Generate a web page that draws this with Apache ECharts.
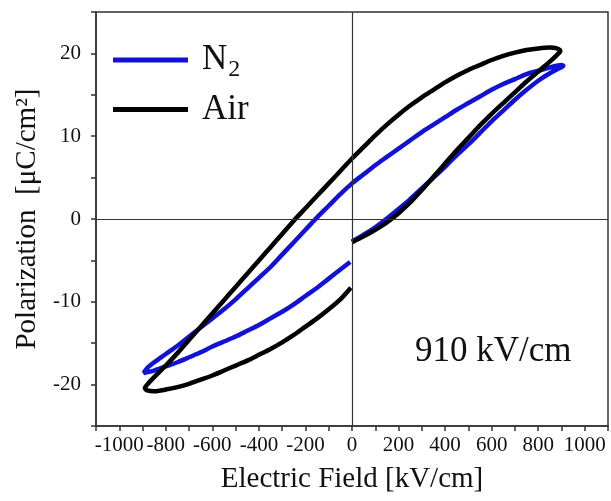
<!DOCTYPE html>
<html>
<head>
<meta charset="utf-8">
<script src="https://cdn.jsdelivr.net/npm/echarts@6/dist/echarts.min.js"></script>
<style>
  html, body { margin: 0; padding: 0; background: #fff; }
  #pe-loop { width: 611px; height: 501px; }
</style>
</head>
<body>
<div id="pe-loop"></div>
<script>
// N2 loop: field [kV/cm] and polarization [uC/cm2]
var n2Field = [0, 50, 100, 150, 200, 250, 300, 350, 400, 450, 500, 550, 600, 650, 700, 750, 800, 850, 890, 908,
    900, 850, 800, 750, 700, 650, 600, 550, 500, 450, 400, 350, 300, 250, 200, 150, 100, 50, 0,
    -50, -100, -150, -200, -250, -300, -350, -400, -450, -500, -550, -600, -650, -700, -750, -800, -850, -880, -895,
    -880, -850, -800, -750, -700, -650, -600, -550, -500, -450, -400, -350, -300, -250, -200, -150, -100, -50, -8];
var n2Pol = [-2.7, -1.9, -1.0, 0.05, 1.2, 2.4, 3.7, 5.0, 6.3, 7.7, 9.0, 10.4, 11.8, 13.1, 14.4, 15.6, 16.7, 17.6, 18.2, 18.5,
    18.6, 18.3, 17.9, 17.5, 16.9, 16.3, 15.6, 14.8, 14.0, 13.2, 12.3, 11.4, 10.5, 9.5, 8.5, 7.5, 6.5, 5.4, 4.3,
    3.0, 1.6, 0.2, -1.3, -2.8, -4.3, -5.8, -7.1, -8.4, -9.7, -10.9, -12.0, -13.1, -14.2, -15.3, -16.3, -17.3, -18.0, -18.6,
    -18.5, -18.3, -17.8, -17.3, -16.7, -16.1, -15.4, -14.8, -14.2, -13.5, -12.8, -12.0, -11.2, -10.3, -9.3, -8.3, -7.2, -6.1, -5.2];

// Air loop
var airField = [0, 50, 100, 150, 200, 250, 300, 350, 400, 450, 500, 550, 600, 650, 700, 750, 800, 850, 880, 895,
    880, 850, 800, 750, 700, 650, 600, 550, 500, 450, 400, 350, 300, 250, 200, 150, 100, 50, 0,
    -50, -100, -150, -200, -250, -300, -350, -400, -450, -500, -550, -600, -650, -700, -750, -800, -850, -880, -890,
    -880, -850, -800, -750, -700, -650, -600, -550, -500, -450, -400, -350, -300, -250, -200, -150, -100, -50, -5];
var airPol = [-2.8, -2.1, -1.3, -0.4, 0.7, 2.0, 3.5, 5.1, 6.7, 8.3, 9.8, 11.3, 12.7, 14.0, 15.3, 16.6, 17.8, 19.0, 19.8, 20.3,
    20.6, 20.7, 20.6, 20.4, 20.1, 19.7, 19.2, 18.6, 18.0, 17.3, 16.5, 15.6, 14.7, 13.7, 12.6, 11.4, 10.1, 8.7, 7.3,
    5.8, 4.3, 2.8, 1.3, -0.2, -1.8, -3.4, -5.0, -6.6, -8.2, -9.8, -11.4, -13.0, -14.6, -16.2, -17.7, -19.1, -20.0, -20.4,
    -20.7, -20.8, -20.6, -20.3, -19.9, -19.4, -18.9, -18.3, -17.7, -17.1, -16.4, -15.7, -14.9, -14.0, -13.0, -12.0, -10.9, -9.7, -8.3];

var seriesNames = ['N2', 'Air'];
var xTicks = [-1000, -800, -600, -400, -200, 0, 200, 400, 600, 800, 1000];
var yTicks = [-20, -10, 0, 10, 20];

function pairs(xs, ys) {
    var out = [];
    for (var i = 0; i < xs.length; i++) {
        out.push([xs[i], ys[i]]);
    }
    return out;
}

var serif = "'Liberation Serif', 'Times New Roman', serif";
var chart = echarts.init(document.getElementById('pe-loop'));

var option = {
    animation: false,
    backgroundColor: '#fff',
    textStyle: { fontFamily: serif },
    grid: {
        left: 96,
        right: 1,
        top: 12,
        bottom: 75,
        show: true,
        borderColor: '#333',
        borderWidth: 1.5
    },
    legend: {
        left: 113,
        top: 38,
        padding: 0,
        orient: 'vertical',
        itemWidth: 75,
        itemHeight: 5,
        itemGap: 10,
        icon: 'rect',
        data: seriesNames,
        formatter: function (name) {
            return name === 'N2' ? '{n|N}{sub|2}' : '{n|' + name + '}';
        },
        textStyle: {
            color: '#111',
            rich: {
                n: { fontFamily: serif, fontSize: 35, lineHeight: 40, padding: [0, 0, 0, 9], color: '#111' },
                sub: { fontFamily: serif, fontSize: 24, lineHeight: 40, padding: [20, 0, 0, 1], color: '#111' }
            }
        }
    },
    xAxis: {
        type: 'value',
        min: -1100,
        max: 1100,
        interval: 100,
        name: 'Electric Field [kV/cm]',
        nameLocation: 'middle',
        nameGap: 39,
        nameTextStyle: { fontFamily: serif, fontSize: 29, color: '#111' },
        axisLine: { show: true, onZero: false, lineStyle: { color: '#333', width: 1.5 } },
        axisTick: { show: true, length: 5, lineStyle: { color: '#333', width: 1.5 } },
        axisLabel: {
            margin: 9,
            fontFamily: serif,
            fontSize: 21,
            color: '#111',
            formatter: function (v) { return xTicks.indexOf(v) >= 0 ? String(v) : ''; }
        },
        splitLine: { show: false }
    },
    yAxis: {
        type: 'value',
        min: -25,
        max: 25,
        interval: 5,
        name: 'Polarization  [μC/cm²]',
        nameLocation: 'middle',
        nameGap: 54,
        nameTextStyle: { fontFamily: serif, fontSize: 29, color: '#111' },
        axisLine: { show: true, onZero: false, lineStyle: { color: '#333', width: 1.5 } },
        axisTick: { show: true, length: 5, lineStyle: { color: '#333', width: 1.5 } },
        axisLabel: {
            margin: 15,
            fontFamily: serif,
            fontSize: 21,
            color: '#111',
            formatter: function (v) { return yTicks.indexOf(v) >= 0 ? String(v) : ''; }
        },
        splitLine: { show: false }
    },
    graphic: [
        {
            type: 'text',
            left: 415,
            top: 334,
            style: {
                text: '910 kV/cm',
                font: '35px ' + serif,
                fill: '#111'
            }
        }
    ],
    series: [
        {
            name: 'N2',
            type: 'line',
            data: pairs(n2Field, n2Pol),
            smooth: 0.3,
            showSymbol: false,
            color: '#1212d6',
            lineStyle: { width: 4.5, color: '#1212d6' },
            markLine: {
                silent: true,
                symbol: 'none',
                label: { show: false },
                lineStyle: { color: '#333', width: 1.2, type: 'solid' },
                data: [{ xAxis: 0 }, { yAxis: 0 }]
            }
        },
        {
            name: 'Air',
            type: 'line',
            data: pairs(airField, airPol),
            smooth: 0.3,
            showSymbol: false,
            color: '#000',
            lineStyle: { width: 4.5, color: '#000' }
        }
    ]
};

chart.setOption(option);
window.addEventListener('resize', function () {
    chart.resize();
});
</script>
</body>
</html>
